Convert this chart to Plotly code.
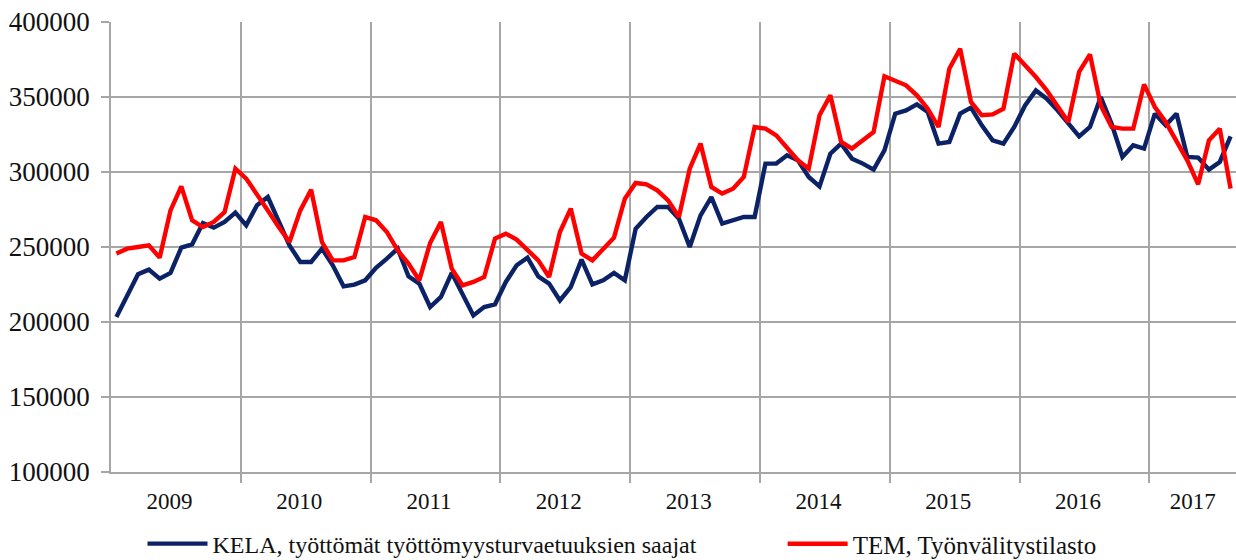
import plotly.graph_objects as go

years = ["2009", "2010", "2011", "2012", "2013", "2014", "2015", "2016", "2017"]
months_per_year = [12, 12, 12, 12, 12, 12, 12, 12, 8]
months = [f"{y}-{m:02d}" for y, n in zip(years, months_per_year) for m in range(1, n + 1)]

kela = [
    203300, 217000, 231800, 234900, 228900, 232700, 249600, 251800, 266000, 262900, 266700, 272900,
    264400, 277800, 283300, 267300, 251100, 240000, 240000, 248900, 237800, 223800, 224900, 227800,
    236200, 242200, 248900, 230400, 225600, 210000, 216700, 232700, 219000, 204400, 210000, 211800,
    226700, 237800, 242900, 230400, 225600, 214400, 223300, 241600, 225100, 227800, 232700, 227800,
    262200, 270000, 276700, 276700, 268900, 250000, 271100, 283300, 265600, 267800, 270000, 270000,
    305600, 305600, 311100, 307800, 296700, 290400, 312200, 318900, 308900, 305600, 301600, 314400,
    338900, 341100, 345100, 340000, 318900, 320000, 338900, 342900, 331100, 321100, 318900, 330000,
    344400, 354400, 348900, 341100, 332200, 323800, 330000, 350000, 332200, 310000, 317800, 315600,
    338900, 331100, 338900, 310000, 309600, 301600, 306700, 323800,
]
tem = [
    245600, 248900, 250000, 251100, 242900, 274400, 290400, 267800, 263300, 266700, 273300, 302200,
    295600, 285600, 274400, 263300, 253300, 274400, 288200, 253300, 241100, 241100, 243300, 270000,
    267800, 260000, 247800, 238900, 227800, 252700, 266700, 235600, 224400, 226700, 230000, 255600,
    258900, 254900, 247800, 241100, 230000, 260000, 275600, 245600, 241100, 248900, 256200, 282200,
    292700, 291800, 287800, 281100, 270000, 302200, 318900, 290000, 285600, 288900, 296700, 330000,
    328900, 324400, 315600, 307800, 302200, 337800, 351100, 320000, 315600, 321100, 326700, 363800,
    361100, 357800, 351100, 342200, 330000, 368900, 382200, 346700, 337800, 338400, 342200, 378900,
    371100, 363300, 354400, 344400, 333300, 366700, 378400, 344400, 330000, 328900, 328900, 358400,
    343300, 333300, 321100, 307800, 291800, 321100, 328900, 288900,
]

series_names = ["KELA, työttömät työttömyysturvaetuuksien saajat", "TEM, Työnvälitystilasto"]
series_colors = ["#0c2266", "#ff0000"]
legend_ids = ["legend", "legend2"]

# month index positions (category centres)
xpos = [i + 0.5 for i in range(len(months))]
year_starts = []
acc = 0
for n in months_per_year:
    year_starts.append(acc)
    acc += n
label_pos = [s + (5.4 if n == 12 else n / 2) for s, n in zip(year_starts, months_per_year)]

FONT = "Liberation Serif"
GRID = "#a6a6a6"
TXT = "#111111"

fig = go.Figure()
for name, vals, col, lg in zip(series_names, [kela, tem], series_colors, legend_ids):
    fig.add_trace(go.Scatter(
        x=xpos, y=vals, mode="lines", name=name, legend=lg,
        line=dict(color=col, width=4.4),
        customdata=months, hovertemplate="%{customdata}: %{y}<extra></extra>",
    ))

legend_common = dict(
    orientation="h", xanchor="left", y=-0.16, yanchor="middle",
    itemwidth=60, bgcolor="rgba(0,0,0,0)",
)

fig.update_layout(
    width=1236, height=560,
    margin=dict(l=111, r=0, t=22, b=88, autoexpand=False),
    paper_bgcolor="white", plot_bgcolor="white",
    font=dict(family=FONT, size=24, color=TXT),
    showlegend=True,
    legend=dict(x=0.028, font=dict(family=FONT, size=24, color=TXT), **legend_common),
    legend2=dict(x=0.597, font=dict(family=FONT, size=25, color=TXT), **legend_common),
    xaxis=dict(
        range=[0, len(months)],
        tickmode="array", tickvals=label_pos, ticktext=years,
        ticks="", showgrid=False,
        tickfont=dict(family=FONT, size=23, color=TXT),
        ticklabelstandoff=8,
        showline=True, linecolor=GRID, linewidth=1.5,
        zeroline=False,
        minor=dict(tickmode="array", tickvals=year_starts[1:], ticks="outside",
                   ticklen=9, tickcolor=GRID, tickwidth=1.5,
                   showgrid=True, gridcolor=GRID, gridwidth=1.5),
        fixedrange=True,
    ),
    yaxis=dict(
        range=[100000, 400000], dtick=50000, tick0=100000,
        tickformat="d",
        tickfont=dict(family=FONT, size=27, color=TXT),
        ticklabelstandoff=6,
        showgrid=True, gridcolor=GRID, gridwidth=1.5,
        ticks="outside", ticklen=8, tickcolor=GRID, tickwidth=1.5,
        showline=True, linecolor=GRID, linewidth=1.5,
        zeroline=False,
        fixedrange=True,
    ),
)

fig.write_html(
    "out.html",
    config={"displayModeBar": False},
    post_script="document.body.style.margin='0';document.body.style.overflow='hidden';",
)
